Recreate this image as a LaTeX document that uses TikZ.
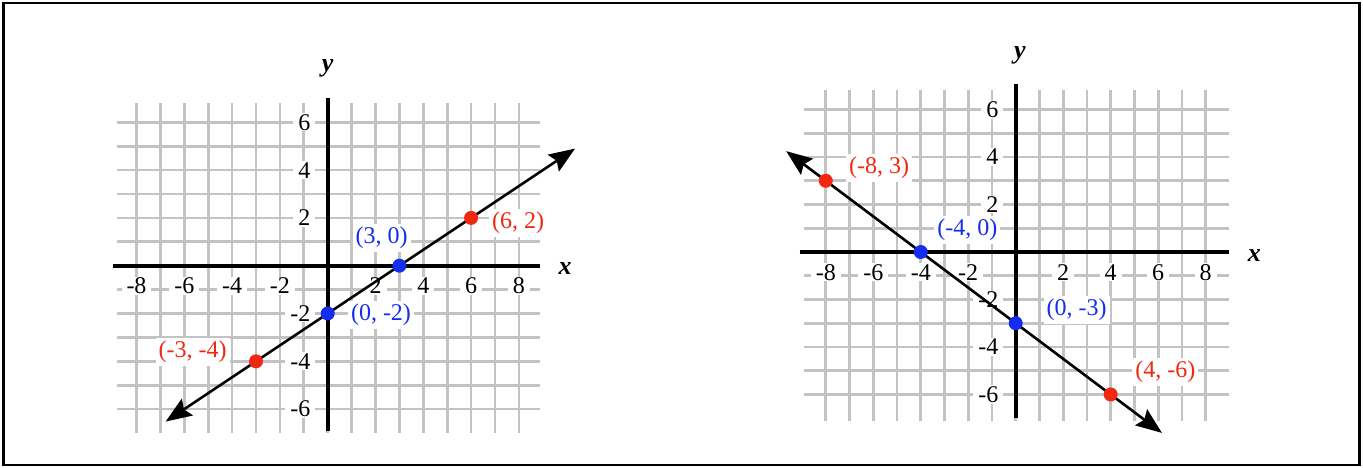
\documentclass[tikz,border=0pt]{standalone}
\usepackage{fontspec}
\setmainfont{Liberation Serif}
\usetikzlibrary{arrows.meta}
\definecolor{gridgray}{RGB}{195,195,195}
\definecolor{ptred}{RGB}{240,40,15}
\definecolor{ptblue}{RGB}{20,45,240}
\begin{document}
\begin{tikzpicture}[x=0.5pt,y=-0.5pt,
  gridline/.style={draw=gridgray, line width=1.35pt},
  axisline/.style={line width=1.9pt, black},
  ticklabel/.style={fill=white, font=\fontsize{12}{14}\selectfont, inner xsep=2.5pt, inner ysep=0.5pt},
  ptlabel/.style={fill=white, font=\fontsize{12}{14}\selectfont, inner sep=1.5pt},
  axislabel/.style={font=\fontsize{13}{15}\selectfont\bfseries\itshape},
  plotline/.style={line width=1.3pt, {Stealth[length=13pt,width=10pt,inset=2pt]}-{Stealth[length=13pt,width=10pt,inset=2pt]}},
  dot/.style={circle, inner sep=0pt, minimum size=7pt}
]
\useasboundingbox (0,0) rectangle (1363,467);
\draw[line width=1.2pt] (3.3,3) rectangle (1359.5,465);

% ---------- left graph ----------
\begin{scope}[shift={(163.85pt,-132.85pt)}, x=11.95pt, y=11.95pt]
  \foreach \i in {-8,...,8} \draw[gridline] (\i,-7) -- (\i,6.8);
  \foreach \j in {-6,...,6} \draw[gridline] (-8.8,\j) -- (8.9,\j);
  \draw[axisline] (-9.0,0) -- (8.9,0);
  \draw[axisline] (0,-6.9) -- (0,7.0);
  \foreach \v in {-8,-6,-4,-2,2,4,6,8} \node[ticklabel] (Lx\v) at (\v,-0.85) {\v};
  \foreach \v in {-6,-4,-2,2,4,6} \node[ticklabel, anchor=east] (Ly\v) at (-0.5,\v) {\v};
  \node[axislabel] (Lxl) at (9.93,-0.1) {x};
  \node[axislabel] (Lyl) at (0,8.27) {y};
  \coordinate (La) at (-6.78,-6.52);
  \coordinate (Lb) at (10.35,4.9);
  \draw[plotline] (La) -- (Lb);
  \node[dot, fill=ptred] (Lp1) at (6,2) {};
  \node[dot, fill=ptred] (Lp2) at (-3,-4) {};
  \node[dot, fill=ptblue] (Lp3) at (3,0) {};
  \node[dot, fill=ptblue] (Lp4) at (0,-2) {};
  \node[ptlabel, text=ptred] (Lt1) at (7.97,1.78) {(6, 2)};
  \node[ptlabel, text=ptred] (Lt2) at (-5.65,-3.6) {(-3, -4)};
  \node[ptlabel, text=ptblue] (Lt3) at (2.26,1.15) {(3, 0)};
  \node[ptlabel, text=ptblue] (Lt4) at (2.23,-2.06) {(0, -2)};
\end{scope}

% ---------- right graph ----------
\begin{scope}[shift={(507.85pt,-126pt)}, x=11.87pt, y=11.87pt]
  \foreach \i in {-8,...,8} \draw[gridline] (\i,-7.1) -- (\i,6.84);
  \foreach \j in {-6,...,6} \draw[gridline] (-8.9,\j) -- (9.0,\j);
  \draw[axisline] (-9.1,0) -- (9.0,0);
  \draw[axisline] (0,-7.0) -- (0,7.09);
  \foreach \v in {-8,-6,-4,-2,2,4,6,8} \node[ticklabel] (Rx\v) at (\v,-0.85) {\v};
  \foreach \v in {-6,-4,-2,2,4,6} \node[ticklabel, anchor=east] (Ry\v) at (-0.5,\v) {\v};
  \node[axislabel] (Rxl) at (10.05,-0.13) {x};
  \node[axislabel] (Ryl) at (0.18,8.27) {y};
  \coordinate (Ra) at (-9.67,4.25);
  \coordinate (Rb) at (6.16,-7.62);
  \draw[plotline] (Ra) -- (Rb);
  \node[dot, fill=ptred] (Rp1) at (-8,3) {};
  \node[dot, fill=ptred] (Rp2) at (4,-6) {};
  \node[dot, fill=ptblue] (Rp3) at (-4,0) {};
  \node[dot, fill=ptblue] (Rp4) at (0,-3) {};
  \node[ptlabel, text=ptred] (Rt1) at (-5.75,3.53) {(-8, 3)};
  \node[ptlabel, text=ptred] (Rt2) at (6.3,-5.05) {(4, -6)};
  \node[ptlabel, text=ptblue] (Rt3) at (-2.04,0.93) {(-4, 0)};
  \node[ptlabel, text=ptblue] (Rt4) at (2.57,-2.45) {(0, -3)};
\end{scope}
\end{tikzpicture}
\end{document}
